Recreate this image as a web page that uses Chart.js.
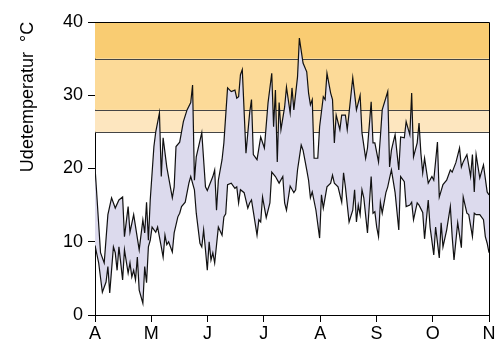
<!DOCTYPE html>
<html>
<head>
<meta charset="utf-8">
<script src="https://cdn.jsdelivr.net/npm/chart.js@4/dist/chart.umd.min.js"></script>
<style>
  body { margin: 0; background: #fff; }
</style>
</head>
<body>
<canvas id="myChart" width="499" height="345"></canvas>
<script>
// months april -> november, days counted from 1 april
const monthLabels = ['A', 'M', 'J', 'J', 'A', 'S', 'O', 'N'];
const seasonDays = 214;

// daily max
const maxDay = [0, 3, 5, 7, 9, 11, 13, 15, 16, 18, 19, 21, 24, 26, 27, 28, 29, 30, 32, 33,
  35, 36, 37, 39, 42, 43, 44, 46, 48, 50, 52, 53, 54, 55, 58, 60, 61, 64, 65, 66,
  67, 69, 70, 72, 74, 76, 77, 78, 79, 80, 82, 84, 85, 86, 88, 90, 92, 94, 96, 97,
  98, 99, 100, 101, 103, 104, 106, 107, 108, 110, 111, 113, 115, 116, 117, 118, 119, 121, 122, 124,
  125, 126, 128, 129, 130, 131, 133, 134, 136, 137, 138, 140, 142, 144, 145, 147, 148, 150, 151, 152,
  154, 155, 156, 159, 160, 161, 162, 163, 165, 166, 168, 169, 171, 172, 173, 175, 176, 177, 178, 179,
  181, 183, 184, 186, 187, 189, 191, 193, 194, 196, 198, 199, 200, 202, 204, 205, 206, 207, 209, 211,
  213, 214];
const maxTemp = [20.2, 8.5, 7.1, 13.7, 16, 14.6, 15.7, 16.1, 10.7, 14.8, 11.3, 13.7, 8.9, 13, 11.2, 15.4, 10.2, 15.7, 23, 25,
  27.6, 18.9, 24.2, 20.2, 16, 17.5, 23, 23.6, 26.4, 28, 29, 31.4, 18.4, 21.6, 24.9, 17.5, 17, 18.9, 19.8, 14.3,
  18.4, 21.2, 23.5, 31, 30.5, 30.7, 29.6, 29.8, 32.8, 33.5, 22.1, 27.6, 29.4, 21.9, 21.2, 24.3, 22.8, 29, 33, 25.7,
  30.7, 20.9, 29, 25.3, 28.4, 31.1, 27.6, 31, 28, 32.5, 37.8, 34.4, 33.2, 30.3, 28.7, 29.4, 21.4, 21.4, 25.7, 29.8,
  29.4, 33, 30.3, 29.4, 23.5, 27.3, 25.3, 27.3, 27.3, 25.3, 27.6, 32.4, 28, 30, 24.9, 21.4, 22.8, 29.1, 23.5, 23.5,
  20.9, 24.3, 28, 30.5, 20.2, 22.5, 23.6, 24.6, 19.8, 24.3, 24.2, 26.4, 24.6, 30.3, 21.6, 23.5, 26.2, 22.1, 19.4, 21.4,
  18, 18.9, 18.4, 23.6, 16.1, 17.8, 18.4, 19.8, 19.5, 20.8, 22.8, 20.2, 20.9, 21.9, 18.9, 21.9, 16.8, 21.9, 18.7, 20.5,
  16.8, 16.4];

// daily min
const minDay = [0, 2, 4, 6, 7, 8, 10, 11, 12, 13, 15, 16, 18, 19, 20, 21, 22, 23, 24, 26,
  27, 28, 29, 30, 31, 33, 34, 36, 37, 38, 39, 40, 42, 43, 45, 46, 47, 49, 51, 52,
  54, 55, 57, 58, 59, 60, 61, 62, 63, 64, 65, 67, 69, 70, 71, 72, 74, 76, 77, 78,
  79, 81, 83, 84, 85, 86, 88, 89, 90, 91, 93, 95, 96, 98, 100, 102, 103, 104, 106, 108,
  109, 110, 112, 113, 115, 116, 117, 118, 120, 122, 123, 124, 126, 128, 129, 130, 132, 134, 135, 136,
  138, 140, 141, 142, 143, 144, 145, 146, 148, 150, 151, 152, 153, 154, 155, 156, 158, 159, 160, 161,
  163, 165, 166, 168, 169, 171, 172, 173, 175, 176, 178, 179, 181, 182, 184, 185, 187, 188, 189, 191,
  193, 194, 195, 197, 199, 200, 202, 203, 205, 206, 207, 209, 211, 212, 213, 214];
const minTemp = [9.5, 7.1, 3.1, 4.5, 6.6, 3, 9.3, 8.5, 6.1, 9.3, 4.8, 8.9, 5.7, 7.1, 5.2, 6.1, 4.8, 7.9, 3.4, 1.6,
  6.6, 4.4, 9.3, 10.2, 12, 11.3, 12, 9.3, 7.9, 10.9, 9.6, 10, 8.6, 11.2, 13.4, 13.9, 14.8, 15.4, 18, 18.9,
  17.1, 13.9, 9.8, 9.3, 11.6, 8.9, 6.1, 10, 7.5, 8.5, 7.1, 12, 10.9, 13.4, 13.8, 17.8, 18, 17.3, 17.5, 15.3,
  17.1, 16.7, 14.6, 15.3, 15.7, 14.1, 10.9, 13, 12.7, 16.1, 13.3, 15.3, 19.5, 18.9, 18, 18.9, 15.3, 14.3, 17.6, 16.7,
  17.1, 19.8, 23.2, 22.5, 19.8, 18.4, 16, 16.8, 14.3, 10.5, 16.4, 14.6, 17.5, 18, 19.1, 18, 17.5, 15.4, 19.4, 17.5,
  12.7, 14.3, 17.1, 12.7, 15, 13.7, 17.1, 16, 11.2, 18.9, 13.9, 14.1, 12, 10.7, 15.4, 13.9, 16.7, 17.5, 18.7, 19.8,
  16.7, 11.6, 18.9, 18.2, 14.8, 15, 15.4, 13, 15.3, 15, 14, 10.4, 15.7, 12, 8.2, 12, 7.8, 12.6, 9.3, 11.6,
  14.8, 10.7, 7.5, 12.6, 9.2, 16.1, 13.9, 13.7, 10.7, 13.9, 13.7, 13.7, 13, 10.7, 9.8, 8.5];

// warm bands behind the curves
const bandEdges = [25, 28, 35, 40];
const bandColors = ['#fde6bf', '#fcda98', '#f9cc72'];
const rangeColor = '#dcdaed';

Chart.defaults.font.family = "'Liberation Sans', Arial, sans-serif";
Chart.defaults.color = '#000';

const bandsPlugin = {
  id: 'bands',
  beforeDatasetsDraw(chart) {
    const { ctx, chartArea: a, scales: { y } } = chart;
    ctx.save();
    for (let i = 0; i < bandColors.length; i++) {
      const top = y.getPixelForValue(bandEdges[i + 1]);
      const bot = y.getPixelForValue(bandEdges[i]);
      ctx.fillStyle = bandColors[i];
      ctx.fillRect(a.left, top, a.right - a.left, bot - top);
    }
    ctx.strokeStyle = '#444';
    ctx.lineWidth = 1;
    for (let i = 0; i < bandEdges.length - 1; i++) {
      const py = Math.round(y.getPixelForValue(bandEdges[i])) + 0.5;
      ctx.beginPath();
      ctx.moveTo(a.left, py);
      ctx.lineTo(a.right, py);
      ctx.stroke();
    }
    // shaded range between max and min, from the line points
    const hi = chart.getDatasetMeta(0).data;
    const lo = chart.getDatasetMeta(1).data;
    ctx.beginPath();
    hi.forEach((p, i) => i ? ctx.lineTo(p.x, p.y) : ctx.moveTo(p.x, p.y));
    for (let j = lo.length - 1; j >= 0; j--) ctx.lineTo(lo[j].x, lo[j].y);
    ctx.closePath();
    ctx.fillStyle = rangeColor;
    ctx.fill();
    ctx.restore();
  },
  afterDraw(chart) {
    const { ctx, chartArea: a } = chart;
    ctx.save();
    ctx.strokeStyle = '#000';
    ctx.lineWidth = 1;
    ctx.beginPath();
    ctx.moveTo(a.left, Math.round(a.top) + 0.5);
    ctx.lineTo(Math.round(a.right) + 0.5, Math.round(a.top) + 0.5);
    ctx.lineTo(Math.round(a.right) + 0.5, a.bottom);
    ctx.stroke();
    // axis title
    ctx.translate(28, 97);
    ctx.rotate(-Math.PI / 2);
    ctx.font = "18px 'Liberation Sans', Arial, sans-serif";
    ctx.fillStyle = '#000';
    ctx.textAlign = 'center';
    ctx.textBaseline = 'middle';
    ctx.fillText('Udetemperatur  °C', 0, 0);
    ctx.restore();
  }
};

const config = {
  type: 'line',
  data: {
    datasets: [{
      label: 'max',
      data: maxDay.map((d, i) => ({ x: d, y: maxTemp[i] })),
      borderColor: '#111',
      borderWidth: 1.2,
      pointRadius: 0,
      tension: 0,
      fill: false
    },
    {
      label: 'min',
      data: minDay.map((d, i) => ({ x: d, y: minTemp[i] })),
      borderColor: '#111',
      borderWidth: 1.2,
      pointRadius: 0,
      tension: 0,
      fill: false
    }]
  },
  options: {
    responsive: false,
    animation: false,
    layout: { padding: { left: 0, right: 10, top: 22, bottom: 0 } },
    plugins: { legend: { display: false }, tooltip: { enabled: false } },
    scales: {
      x: {
        type: 'linear',
        min: 0,
        max: seasonDays,
        afterBuildTicks: s => {
          s.ticks = monthLabels.map((l, i) => ({ value: i * seasonDays / (monthLabels.length - 1) }));
        },
        afterFit: s => { s.height = 30; },
        ticks: {
          autoSkip: false,
          maxRotation: 0,
          padding: 1,
          font: { size: 18 },
          callback: (v, i) => monthLabels[i]
        },
        grid: { drawOnChartArea: false, tickLength: 7, tickColor: '#000' },
        border: { color: '#000' }
      },
      y: {
        min: 0,
        max: 40,
        afterFit: s => { s.width = 95; },
        ticks: { stepSize: 10, padding: 5, font: { size: 18 } },
        grid: { drawOnChartArea: false, tickLength: 7, tickColor: '#000' },
        border: { color: '#000' }
      }
    }
  },
  plugins: [bandsPlugin]
};

var myChart = new Chart(document.getElementById('myChart'), config);
</script>
</body>
</html>
